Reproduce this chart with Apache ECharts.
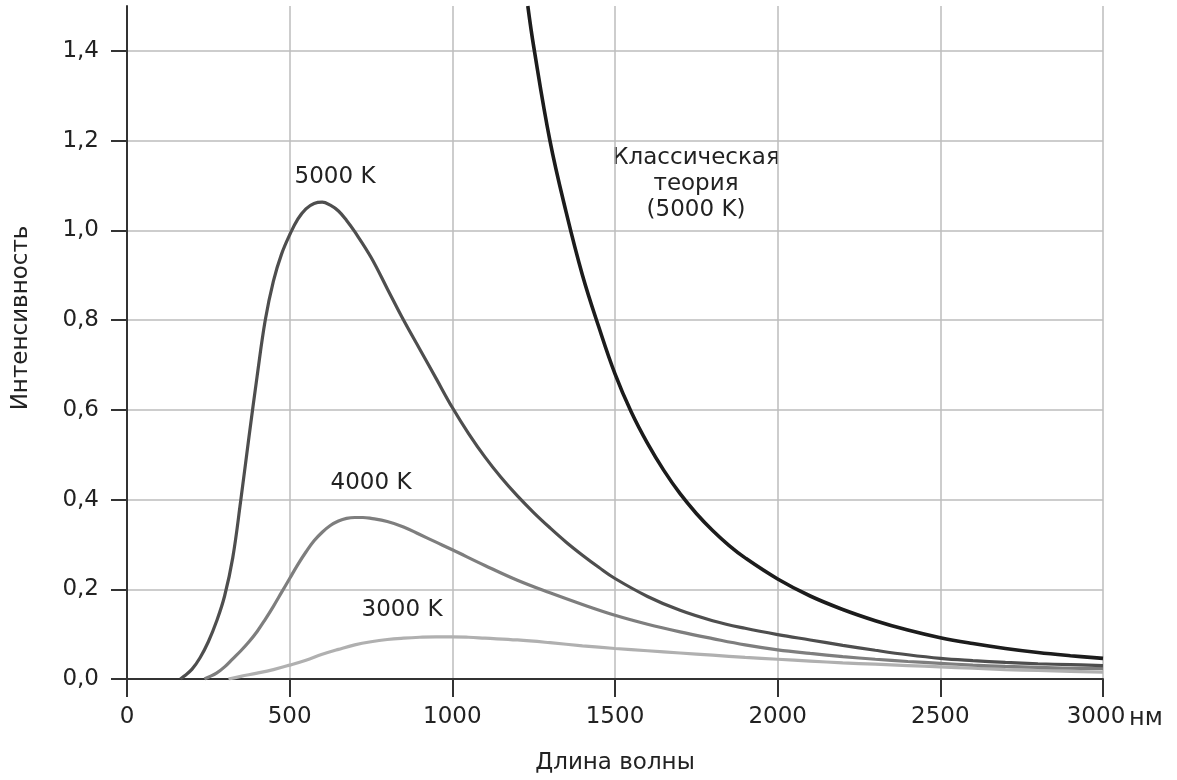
<!DOCTYPE html>
<html>
<head>
<meta charset="utf-8">
<script src="https://cdn.jsdelivr.net/npm/echarts@6/dist/echarts.min.js"></script>
<style>
  html, body { margin: 0; padding: 0; background: #fff; }
  #chart { width: 1177px; height: 780px; }
</style>
</head>
<body>
<div id="chart"></div>
<script>
// длина волны, нм / интенсивность
const lambda5000 = [164, 175, 200, 225, 250, 275, 300, 325, 350, 375, 400, 425, 450, 475, 500, 525, 550, 575, 600, 625, 650, 675, 700, 750, 800, 850, 900, 950, 1000, 1050, 1100, 1150, 1200, 1250, 1300, 1350, 1400, 1450, 1500, 1600, 1700, 1800, 1900, 2000, 2100, 2200, 2300, 2400, 2500, 2600, 2700, 2800, 2900, 3000]
const int5000 = [0, 0.006, 0.022, 0.048, 0.083, 0.128, 0.185, 0.27, 0.4, 0.54, 0.675, 0.8, 0.887, 0.947, 0.99, 1.025, 1.048, 1.06, 1.063, 1.056, 1.043, 1.022, 0.997, 0.94, 0.87, 0.8, 0.735, 0.67, 0.605, 0.547, 0.495, 0.449, 0.408, 0.371, 0.337, 0.305, 0.276, 0.249, 0.224, 0.184, 0.153, 0.13, 0.113, 0.099, 0.087, 0.075, 0.064, 0.054, 0.046, 0.041, 0.037, 0.034, 0.032, 0.03]

const lambda4000 = [238, 250, 275, 300, 325, 350, 375, 400, 425, 450, 475, 500, 525, 550, 575, 600, 625, 650, 675, 700, 725, 750, 800, 850, 900, 950, 1000, 1100, 1200, 1300, 1400, 1500, 1600, 1700, 1800, 1900, 2000, 2100, 2200, 2300, 2400, 2500, 2600, 2700, 2800, 2900, 3000]
const int4000 = [0, 0.004, 0.013, 0.027, 0.045, 0.063, 0.083, 0.106, 0.133, 0.162, 0.193, 0.224, 0.255, 0.283, 0.308, 0.327, 0.342, 0.352, 0.358, 0.36, 0.36, 0.358, 0.351, 0.339, 0.322, 0.305, 0.288, 0.253, 0.22, 0.192, 0.166, 0.142, 0.122, 0.105, 0.09, 0.076, 0.065, 0.057, 0.05, 0.044, 0.039, 0.035, 0.031, 0.028, 0.026, 0.024, 0.023]

const lambda3000 = [312, 350, 400, 450, 500, 550, 600, 650, 700, 750, 800, 850, 900, 950, 1000, 1050, 1100, 1200, 1300, 1400, 1500, 1600, 1700, 1800, 1900, 2000, 2100, 2200, 2300, 2400, 2500, 2600, 2700, 2800, 2900, 3000]
const int3000 = [0, 0.006, 0.013, 0.021, 0.031, 0.042, 0.055, 0.066, 0.076, 0.083, 0.088, 0.091, 0.093, 0.094, 0.094, 0.093, 0.091, 0.087, 0.081, 0.074, 0.068, 0.063, 0.058, 0.053, 0.048, 0.044, 0.04, 0.036, 0.033, 0.03, 0.027, 0.024, 0.021, 0.019, 0.017, 0.015]

const lambdaClassic = [1232, 1250, 1300, 1350, 1400, 1450, 1500, 1550, 1600, 1650, 1700, 1750, 1800, 1850, 1900, 2000, 2100, 2200, 2300, 2400, 2500, 2600, 2700, 2800, 2900, 3000]
const intClassic = [1.5, 1.41, 1.2, 1.04, 0.9, 0.785, 0.68, 0.595, 0.525, 0.465, 0.413, 0.369, 0.331, 0.298, 0.27, 0.223, 0.185, 0.155, 0.13, 0.109, 0.092, 0.079, 0.068, 0.059, 0.052, 0.046]

const yTicks = [0, 0.2, 0.4, 0.6, 0.8, 1.0, 1.2, 1.4]

const font = 'DejaVu Sans'
const textColor = '#222'

function pairs(xs, ys) {
  return xs.map((x, i) => [x, ys[i]])
}

function curve(name, xs, ys, color, width) {
  return {
    name: name,
    type: 'line',
    data: pairs(xs, ys),
    smooth: 0.4,
    showSymbol: false,
    lineStyle: { color: color, width: width },
    clip: true,
  }
}

const chart = echarts.init(document.getElementById('chart'))
chart.setOption({
  animation: false,
  backgroundColor: '#fff',
  grid: { left: 127, right: 74, top: 6, bottom: 101 },
  xAxis: {
    type: 'value',
    min: 0,
    max: 3000,
    interval: 500,
    name: 'Длина волны',
    nameLocation: 'middle',
    nameGap: 73,
    nameTextStyle: { fontFamily: font, fontSize: 23, color: textColor },
    axisLine: { lineStyle: { color: '#333', width: 2 } },
    axisTick: { inside: false, length: 18, lineStyle: { color: '#333', width: 2 } },
    axisLabel: {
      margin: 27,
      fontFamily: font,
      fontSize: 23,
      color: textColor,
      formatter: v => (v === 3000 ? '{e|3000}' : String(v)),
      rich: { e: { fontFamily: font, fontSize: 23, color: textColor, padding: [0, 14, 0, 0] } },
    },
    splitLine: { show: true, lineStyle: { color: '#bdbdbd', width: 1.5 } },
  },
  yAxis: {
    type: 'value',
    min: 0,
    max: 1.5,
    interval: 0.2,
    axisLine: { show: true, lineStyle: { color: '#333', width: 2 } },
    axisTick: { show: true, length: 16, customValues: yTicks, lineStyle: { color: '#333', width: 2 } },
    axisLabel: {
      margin: 28,
      customValues: yTicks,
      fontFamily: font,
      fontSize: 23,
      color: textColor,
      formatter: v => v.toFixed(1).replace('.', ','),
    },
    splitLine: { show: true, lineStyle: { color: '#bdbdbd', width: 1.5 } },
  },
  graphic: [
    {
      type: 'text', x: 21, y: 318, rotation: Math.PI / 2,
      style: { text: 'Интенсивность', font: '23px "DejaVu Sans"', fill: textColor, textAlign: 'center', textVerticalAlign: 'middle' },
    },
    {
      type: 'text', x: 1129, y: 719,
      style: { text: 'нм', font: '24px "DejaVu Sans"', fill: textColor, textAlign: 'left', textVerticalAlign: 'middle' },
    },
    {
      type: 'text', x: 335, y: 177,
      style: { text: '5000 K', font: '23px "DejaVu Sans"', fill: textColor, textAlign: 'center', textVerticalAlign: 'middle' },
    },
    {
      type: 'text', x: 371, y: 483,
      style: { text: '4000 K', font: '23px "DejaVu Sans"', fill: textColor, textAlign: 'center', textVerticalAlign: 'middle' },
    },
    {
      type: 'text', x: 402, y: 610,
      style: { text: '3000 K', font: '23px "DejaVu Sans"', fill: textColor, textAlign: 'center', textVerticalAlign: 'middle' },
    },
    {
      type: 'text', x: 696, y: 184,
      style: { text: 'Классическая\nтеория\n(5000 K)', font: '23px "DejaVu Sans"', lineHeight: 26, fill: textColor, textAlign: 'center', textVerticalAlign: 'middle' },
    },
  ],
  series: [
    curve('3000 K', lambda3000, int3000, '#b0b0b0', 3.2),
    curve('4000 K', lambda4000, int4000, '#7e7e7e', 3.2),
    curve('5000 K', lambda5000, int5000, '#4e4e4e', 3.2),
    curve('Классическая теория', lambdaClassic, intClassic, '#1c1c1c', 3.6),
  ],
})
</script>
</body>
</html>
